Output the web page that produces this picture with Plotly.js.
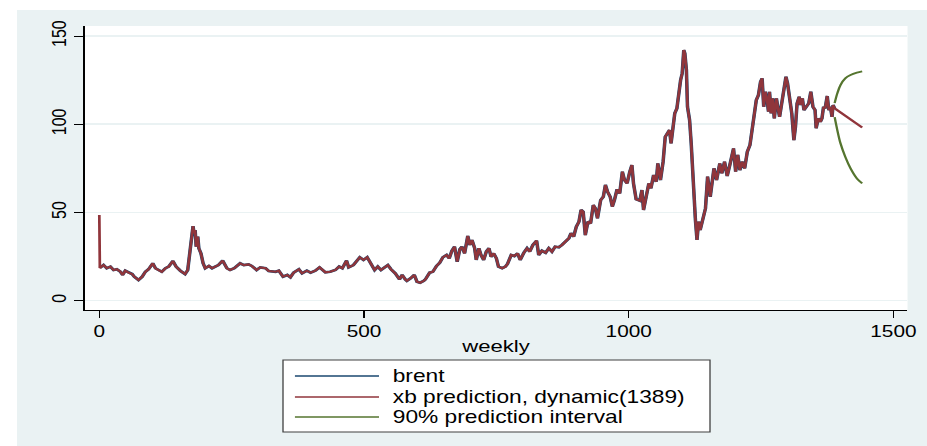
<!DOCTYPE html>
<html><head><meta charset="utf-8">
<script src="https://cdn.plot.ly/plotly-3.0.1.min.js"></script>
<style>
html,body{margin:0;padding:0;background:#ffffff;width:927px;height:446px;overflow:hidden;}
#wrap{position:absolute;left:17px;top:10px;width:700px;height:436px;transform:scaleX(1.3);transform-origin:0 0;}
</style></head>
<body><div id="wrap"><div id="chart" style="width:700px;height:436px"></div></div>
<script>
// weekly index of the observed Brent series
const weeks = [1,8,14,21,27,33,40,44,49,55,62,66,74,81,87,93,101,106,112,118,125,131,139,145,153,162,167,171,174,177,179,181,183,186,188,192,196,200,207,213,219,225,233,241,247,255,266,273,282,288,297,304,314,320,333,339,347,355,361,367,377,383,392,399,408,416,427,436,446,453,459,467,471,480,492,499,506,515,520,526,532,538,545,551,559,567,572,578,581,588,595,600,606,613,616,624,630,637,643,649,656,661,666,671,676,681,685,690,696,700,704,709,712,717,721,726,731,736,740,745,750,754,761,767,771,778,784,790,795,802,808,813,819,826,830,836,843,849,855,861,868,874,880,887,891,896,901,906,910,914,918,923,928,933,937,941,947,952,956,960,965,969,973,978,983,988,992,997,1002,1006,1009,1014,1021,1025,1028,1033,1038,1042,1047,1052,1055,1060,1065,1069,1074,1077,1080,1084,1087,1091,1095,1098,1101,1104,1106,1109,1111,1115,1118,1120,1123,1126,1129,1132,1135,1140,1145,1149,1154,1161,1166,1172,1176,1181,1186,1191,1195,1198,1202,1206,1210,1214,1219,1224,1229,1233,1237,1241,1245,1249,1252,1255,1258,1261,1264,1266,1269,1272,1275,1279,1282,1285,1289,1293,1297,1300,1304,1308,1312,1315,1318,1322,1324,1328,1331,1336,1340,1344,1348,1352,1354,1358,1362,1365,1368,1371,1375,1378,1381,1384,1386,1389];
const brent = [18.6,20.2,18.4,19.3,17.4,17.8,16.4,14.6,17.0,15.9,15.1,13.6,11.7,13.6,16.4,17.8,21.2,18.4,17.4,16.4,18.4,19.3,22.5,19.3,17.0,15.1,17.4,28.7,32.5,42.3,38.2,40.0,30.6,36.3,29.7,26.8,21.2,18.4,19.7,18.4,19.3,20.2,22.7,18.4,17.4,18.4,21.2,20.2,20.6,19.7,17.4,18.9,18.4,16.8,16.4,17.0,13.6,14.6,13.3,15.9,17.8,15.5,17.0,15.9,17.0,18.9,16.1,16.4,17.4,19.3,18.4,22.7,18.9,20.2,24.6,23.1,24.6,19.7,17.4,19.3,17.4,18.7,20.2,17.8,15.5,12.1,14.6,12.1,11.3,12.7,14.6,10.8,10.2,11.3,12.1,15.9,16.4,19.7,21.5,24.6,25.9,24.0,28.3,30.6,22.1,29.1,30.6,26.8,36.7,31.6,34.4,29.7,23.1,29.7,25.9,23.1,27.8,29.7,24.9,26.8,24.0,19.3,18.4,19.3,20.8,25.9,25.3,26.8,23.1,27.2,29.7,27.8,31.6,34.0,25.9,28.3,27.2,29.7,27.8,30.6,30.3,31.6,33.4,35.4,38.2,36.3,41.9,44.8,51.4,50.4,37.2,44.8,43.8,54.2,52.3,46.7,57.0,58.9,65.6,61.8,58.9,53.3,57.0,63.1,60.8,73.1,68.4,66.5,73.1,76.9,66.5,57.5,56.7,62.7,51.4,59.9,66.5,63.7,71.2,67.4,77.8,68.4,78.8,92.9,94.8,96.7,89.2,97.7,106.2,109.0,119.4,125.0,128.8,142.0,140.2,130.7,109.9,102.4,89.2,75.9,60.8,45.7,34.4,44.8,40.1,45.7,52.3,70.3,58.9,75.0,68.4,77.8,72.2,78.8,70.7,76.9,82.6,86.3,73.1,82.6,74.0,78.8,75.0,84.4,88.2,96.7,102.4,113.7,116.5,124.1,126.0,109.9,118.4,114.7,107.1,118.4,106.2,114.7,103.3,114.7,109.0,104.2,111.8,121.2,126.9,123.2,115.6,106.2,91.0,98.6,111.8,115.6,110.9,114.7,108.0,109.9,111.8,118.4,109.9,108.0,97.7,103.3,101.4,103.3,109.9,109.0,116.0,108.0,109.9,104.2,110.9,109.0];
// xb prediction: first in-sample value and dynamic forecast from 1389
const predStartWeek = [0];
const predStartValue = [48.6];
const fcWeeks = [1400,1415,1430,1441];
const fcValues = [106.8,103.5,100.5,98.2];
// 90% prediction interval
const ciWeeks = [1389,1394,1400,1409,1419,1431,1441];
const ciUpper = [112.0,117.5,122.2,126.0,127.9,129.2,129.9];
const ciLower = [104.0,96.7,89.2,81.6,75.0,69.3,66.5];
const xTicks = [0,500,1000,1500];
const yTicks = [0,50,100,150];
const seriesNames = ['brent', 'xb prediction, dynamic(1389)', '90% prediction interval'];
const seriesColors = ['#1A476F', '#90353B', '#55752F'];

const predX = predStartWeek.concat(weeks, fcWeeks);
const predY = predStartValue.concat(brent, fcValues);
const ciX = ciWeeks.concat([null], ciWeeks);
const ciY = ciUpper.concat([null], ciLower);

const traces = [
  {x: weeks, y: brent, type: 'scatter', mode: 'lines', name: seriesNames[0],
   line: {color: seriesColors[0], width: 2.7}},
  {x: predX, y: predY, type: 'scatter', mode: 'lines', name: seriesNames[1],
   line: {color: seriesColors[1], width: 2.1}},
  {x: ciX, y: ciY, type: 'scatter', mode: 'lines', name: seriesNames[2],
   connectgaps: false, line: {color: seriesColors[2], width: 1.8, shape: 'spline'}}
];

// legend box drawn in paper coordinates (Stata-style legend below the axis title)
const legBox = {x0: 0.2411, x1: 0.7600, y0: -0.4296, y1: -0.1761};
const legLineX = [0.2556, 0.3578];
const legRowY = [-0.2324, -0.3063, -0.3768];
const legTextX = 0.3730;

const shapes = [{type: 'rect', xref: 'paper', yref: 'paper', x0: legBox.x0, x1: legBox.x1, y0: legBox.y0, y1: legBox.y1,
  fillcolor: '#FFFFFF', line: {color: '#404040', width: 1}, layer: 'above'}];
const annotations = [];
seriesNames.forEach((nm, i) => {
  shapes.push({type: 'line', xref: 'paper', yref: 'paper', x0: legLineX[0], x1: legLineX[1], y0: legRowY[i], y1: legRowY[i],
    line: {color: seriesColors[i], width: 1.6}, layer: 'above'});
  annotations.push({xref: 'paper', yref: 'paper', x: legTextX, y: legRowY[i], xanchor: 'left', yanchor: 'middle',
    text: nm, showarrow: false, font: {size: 17.5, color: '#000000'}, borderpad: 0});
});

const layout = {
  width: 700, height: 436,
  paper_bgcolor: '#EAF2F3', plot_bgcolor: '#FFFFFF',
  margin: {l: 52, r: 15, t: 16, b: 136, pad: 0, autoexpand: false},
  font: {family: '"Liberation Sans", Arial, sans-serif', color: '#000000'},
  showlegend: false,
  shapes: shapes,
  annotations: annotations,
  xaxis: {range: [-27.8, 1526.6], tickmode: 'array', tickvals: xTicks, ticktext: xTicks.map(String),
    showgrid: false, zeroline: false, showline: true, linecolor: '#000000', linewidth: 1,
    ticks: 'outside', ticklen: 7, tickwidth: 1, tickcolor: '#000000', tickfont: {size: 16},
    automargin: false,
    title: {text: 'weekly', font: {size: 17}, standoff: 0}},
  yaxis: {range: [-5.27, 155.67], tickmode: 'array', tickvals: yTicks, ticktext: yTicks.map(String),
    showgrid: true, gridcolor: '#EAF2F3', gridwidth: 1.5, zeroline: false,
    showline: true, linecolor: '#000000', linewidth: 1,
    ticks: 'outside', ticklen: 7, tickwidth: 1, tickcolor: '#000000',
    tickangle: -90, tickfont: {size: 16}, automargin: false}
};

Plotly.newPlot('chart', traces, layout, {displayModeBar: false, staticPlot: true});
</script></body></html>
